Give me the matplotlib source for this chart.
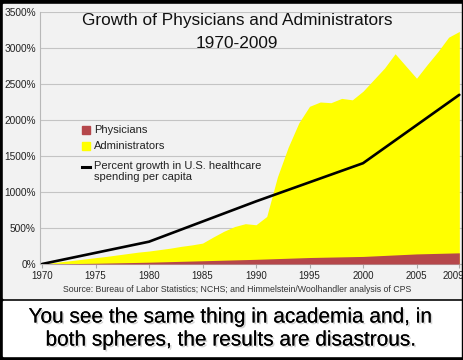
import matplotlib
matplotlib.use('Agg')
import matplotlib.pyplot as plt
import matplotlib.patheffects as pe
import matplotlib.transforms as mtransforms
from matplotlib.patches import Rectangle
from matplotlib.lines import Line2D

plt.rcParams['font.family'] = ['Liberation Sans', 'DejaVu Sans']

# data (percent growth since 1970)
admin_years = list(range(1970, 2010))
admin_pct = [0, 18, 35, 52, 70, 88, 105, 125, 145, 165,
             180, 200, 220, 245, 265, 290, 375, 455, 520, 560,
             545, 660, 1210, 1620, 1960, 2190, 2250, 2240, 2300, 2280,
             2400, 2560, 2720, 2920, 2750, 2580, 2770, 2950, 3150, 3230]
phys_years = [1970, 1975, 1980, 1985, 1990, 1995, 2000, 2005, 2009]
phys_pct = [0, 10, 25, 45, 65, 90, 105, 140, 155]
spend_years = [1970, 1980, 1990, 2000, 2009]
spend_pct = [0, 310, 870, 1400, 2350]
ytick_vals = list(range(0, 3501, 500))
xtick_years = [1970, 1975, 1980, 1985, 1990, 1995, 2000, 2005, 2009]

RED = '#b5474b'
YELLOW = '#ffff00'

W, H = 464, 360


def fx(px):
    return px / W


def fy(py):
    return 1 - py / H


fig = plt.figure(figsize=(W / 100, H / 100), dpi=100, facecolor='black')

# panels: chart area (light gray) and caption strip (white)
fig.add_artist(Rectangle((fx(3), fy(298)), 459 / W, 294 / H,
                         transform=fig.transFigure, color='#f2f2f2', zorder=-2))
fig.add_artist(Rectangle((fx(3), fy(356)), 459 / W, 55.5 / H,
                         transform=fig.transFigure, color='white', zorder=-2))

ax = fig.add_axes([fx(40), fy(264), 422 / W, 252 / H])
ax.patch.set_alpha(0)

ax.fill_between(admin_years, admin_pct, color=YELLOW, lw=0, zorder=2)
ax.fill_between(phys_years, phys_pct, color=RED, lw=0, zorder=3)
ax.plot(spend_years, spend_pct, color='black', lw=1.9, zorder=4,
        solid_capstyle='round')

ax.set_xlim(1969.81, 2009.25)
ax.set_ylim(0, 3500)
ax.set_yticks(ytick_vals)
ax.set_yticklabels([f'{v}%' for v in ytick_vals])
ax.set_xticks(xtick_years)
ax.set_xticklabels([str(y) for y in xtick_years])
ax.yaxis.grid(True, color='#c4c4c4', lw=0.8)
ax.set_axisbelow(True)
for s in ['top', 'right']:
    ax.spines[s].set_visible(False)
ax.spines['left'].set_color('#b8b8b8')
ax.spines['bottom'].set_color('#b8b8b8')
ax.tick_params(axis='y', length=0, pad=3, labelsize=7.3, labelcolor='#222222')
ax.tick_params(axis='x', length=3, color='#aaaaaa', pad=2, labelsize=7,
               labelcolor='#222222')

# last year label sits a little left so it ends at the frame
last = ax.get_xticklabels()[-1]
last.set_transform(last.get_transform() +
                   mtransforms.ScaledTranslation(-6 / 100, 0, fig.dpi_scale_trans))

# title
fig.text(fx(237), fy(21), 'Growth of Physicians and Administrators',
         ha='center', va='center', fontsize=12.4, color='#111111')
fig.text(fx(237), fy(43), '1970-2009', ha='center', va='center',
         fontsize=12.4, color='#111111')

# legend
fig.add_artist(Rectangle((fx(82), fy(134)), 8 / W, 8 / H,
                         transform=fig.transFigure, color=RED))
fig.text(fx(94), fy(130), 'Physicians', va='center', fontsize=8, color='#222222')
fig.add_artist(Rectangle((fx(82), fy(150)), 8 / W, 8 / H,
                         transform=fig.transFigure, color=YELLOW))
fig.text(fx(94), fy(146), 'Administrators', va='center', fontsize=8, color='#222222')
fig.add_artist(Line2D([fx(82), fx(90)], [fy(167), fy(167)],
                      transform=fig.transFigure, color='black', lw=2.2))
fig.text(fx(94), fy(161), 'Percent growth in U.S. healthcare\nspending per capita',
         va='top', fontsize=8, color='#222222', linespacing=1.15)

# source note
fig.text(fx(237.5), fy(290),
         'Source: Bureau of Labor Statistics; NCHS; and Himmelstein/Woolhandler analysis of CPS',
         ha='center', va='center', fontsize=6.3, color='#333333')

# caption with a soft drop shadow
shadow = [pe.withSimplePatchShadow(offset=(1.2, -1.2), shadow_rgbFace='#888888', alpha=0.35),
          pe.Normal()]
fig.text(fx(231), fy(317), 'You see the same thing in academia and, in',
         ha='center', va='center', fontsize=15, color='black', path_effects=shadow)
fig.text(fx(231), fy(340), 'both spheres, the results are disastrous.',
         ha='center', va='center', fontsize=15, color='black', path_effects=shadow)

# black frame on the right edge
fig.add_artist(Rectangle((fx(462), 0), 2 / W, 1, transform=fig.transFigure,
                         color='black', zorder=10))

fig.savefig('out.png', dpi=100, facecolor='black')
